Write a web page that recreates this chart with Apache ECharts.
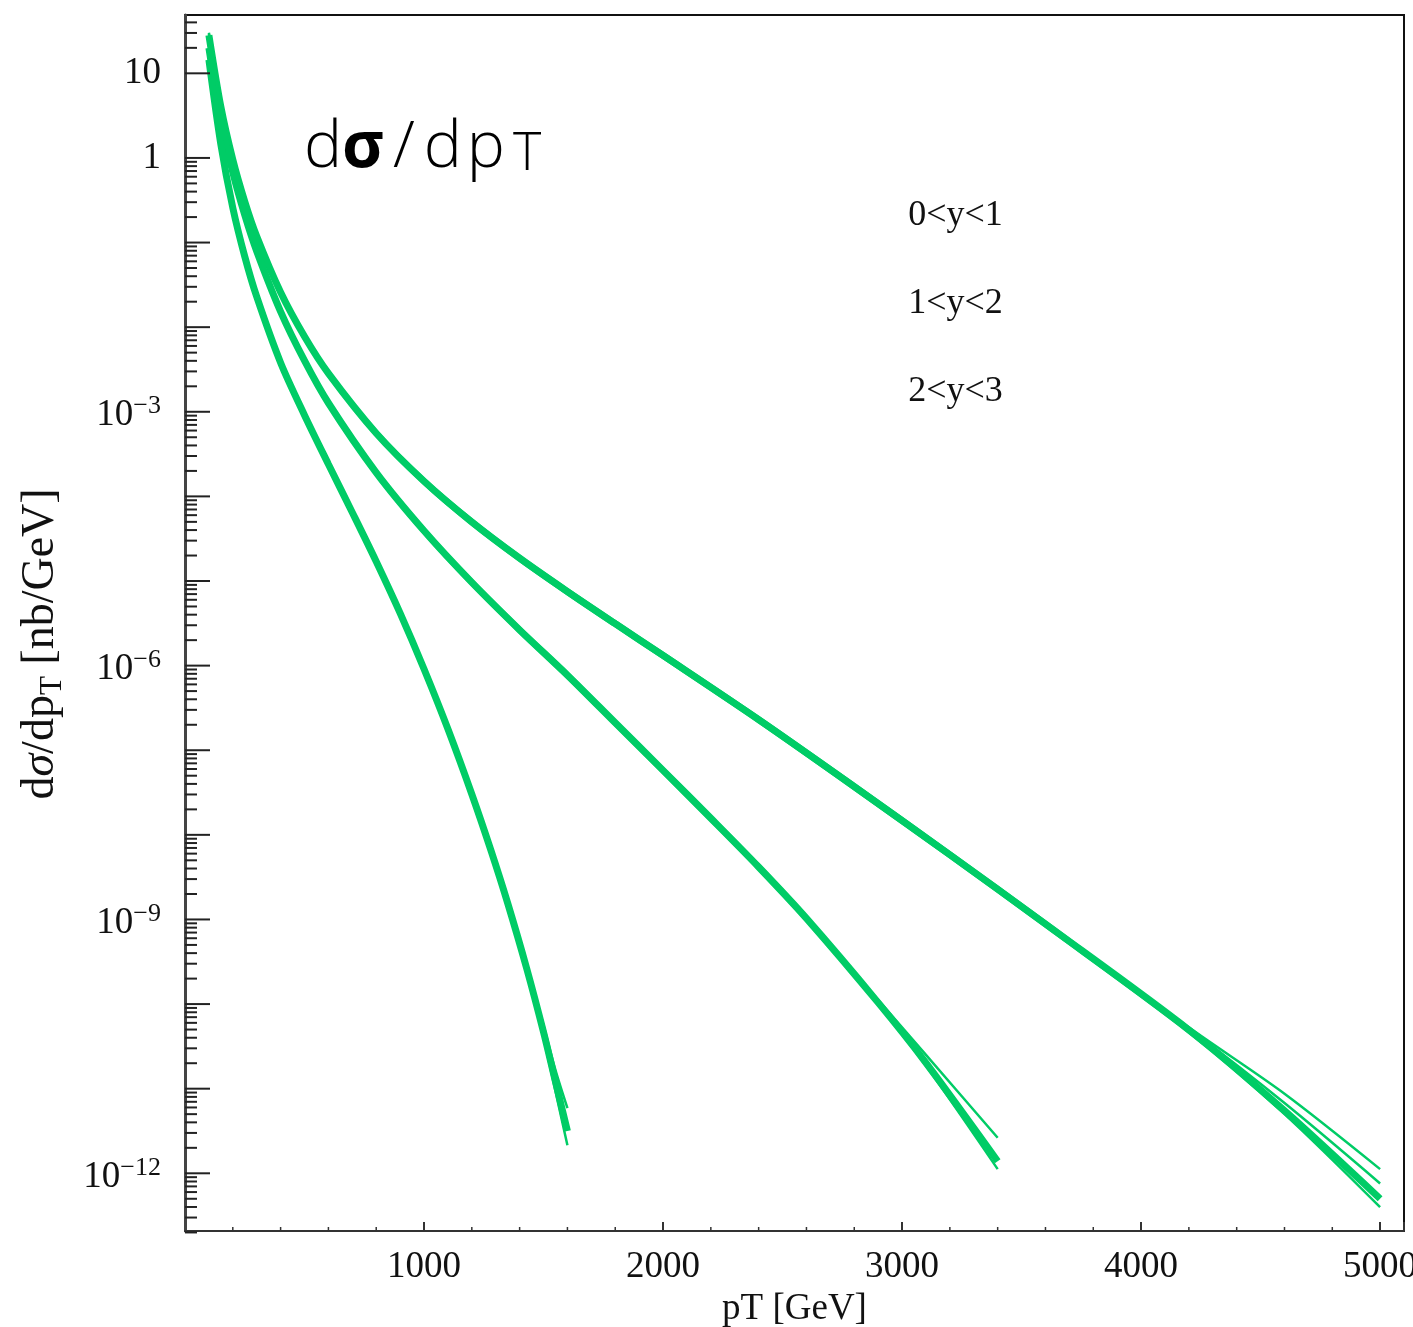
<!DOCTYPE html>
<html>
<head>
<meta charset="utf-8">
<script src="https://cdn.jsdelivr.net/npm/echarts@6/dist/echarts.min.js"></script>
<style>
  html, body { margin: 0; padding: 0; background: #fff; overflow: hidden; }
  #chart { width: 1413px; height: 1327px; }
</style>
</head>
<body>
<div id="chart"></div>
<script>
// Jet transverse-momentum grids (GeV), one per rapidity bin
const ptBin1 = [100, 150, 200, 250, 300, 400, 500, 600, 800, 1000, 1200, 1400, 1600, 1800, 2000, 2400, 2800, 3200, 3600, 4200, 4600, 5000];
const ptBin2 = [100, 150, 200, 250, 300, 400, 500, 600, 800, 1000, 1200, 1400, 1600, 1800, 2000, 2200, 2400, 2600, 2900, 3100, 3400];
const ptBin3 = [100, 150, 200, 250, 300, 400, 500, 600, 700, 800, 900, 1000, 1100, 1200, 1280, 1350, 1430, 1500, 1550, 1600];

// dsigma/dpT [nb/GeV] for 0<y<1 : central curve and scale variations
const bin1Central = [28.2, 4.03, 0.955, 0.306, 0.1186, 2.58e-2, 7.74e-3, 2.84e-3, 5.58e-4, 1.51e-4, 4.98e-5, 1.86e-5, 7.50e-6, 3.13e-6, 1.32e-6, 2.30e-7, 3.72e-8, 5.82e-9, 8.83e-10, 4.95e-11, 5.50e-12, 5.01e-13];
const bin1Up      = [30.2, 4.32, 1.024, 0.328, 0.127, 2.77e-2, 8.30e-3, 3.04e-3, 5.98e-4, 1.62e-4, 5.34e-5, 1.99e-5, 8.04e-6, 3.36e-6, 1.415e-6, 2.47e-7, 3.99e-8, 6.24e-9, 9.47e-10, 5.31e-11, 8.71e-12, 1.12e-12];
const bin1Mid     = [29.2, 4.17, 0.988, 0.317, 0.1228, 2.67e-2, 8.01e-3, 2.94e-3, 5.78e-4, 1.56e-4, 5.15e-5, 1.93e-5, 7.76e-6, 3.24e-6, 1.366e-6, 2.38e-7, 3.85e-8, 6.02e-9, 9.14e-10, 5.13e-11, 6.76e-12, 7.59e-13];
const bin1Down    = [26.3, 3.76, 0.891, 0.285, 0.1107, 2.41e-2, 7.22e-3, 2.65e-3, 5.21e-4, 1.41e-4, 4.65e-5, 1.74e-5, 7.0e-6, 2.92e-6, 1.23e-6, 2.15e-7, 3.47e-8, 5.43e-9, 8.24e-10, 4.62e-11, 5.01e-12, 3.98e-13];

// 1<y<2
const bin2Central = [20.0, 2.85, 0.676, 0.212, 7.91e-2, 1.53e-2, 4.02e-3, 1.27e-3, 1.91e-4, 3.92e-5, 9.62e-6, 2.64e-6, 7.71e-7, 2.11e-7, 5.78e-8, 1.57e-8, 4.17e-9, 1.03e-9, 1.04e-10, 2.02e-11, 1.39e-12];
const bin2Up      = [21.4, 3.06, 0.725, 0.227, 8.48e-2, 1.64e-2, 4.31e-3, 1.36e-3, 2.05e-4, 4.20e-5, 1.03e-5, 2.83e-6, 8.27e-7, 2.26e-7, 6.20e-8, 1.68e-8, 4.47e-9, 1.10e-9, 1.12e-10, 2.51e-11, 2.63e-12];
const bin2Down    = [18.7, 2.66, 0.631, 0.198, 7.38e-2, 1.43e-2, 3.75e-3, 1.18e-3, 1.78e-4, 3.66e-5, 8.98e-6, 2.46e-6, 7.19e-7, 1.97e-7, 5.39e-8, 1.46e-8, 3.89e-9, 9.61e-10, 9.77e-11, 1.86e-11, 1.12e-12];

// 2<y<3
const bin3Central = [14.45, 1.445, 0.257, 6.84e-2, 2.29e-2, 3.80e-3, 9.12e-4, 2.40e-4, 6.46e-5, 1.70e-5, 4.17e-6, 9.12e-7, 1.78e-7, 3.02e-8, 6.55e-9, 1.56e-9, 2.61e-10, 4.66e-11, 1.21e-11, 3.16e-12];
const bin3Up      = [15.5, 1.549, 0.2755, 7.33e-2, 2.455e-2, 4.07e-3, 9.78e-4, 2.57e-4, 6.93e-5, 1.82e-5, 4.47e-6, 9.78e-7, 1.91e-7, 3.24e-8, 7.02e-9, 1.67e-9, 2.80e-10, 5.62e-11, 1.66e-11, 5.9e-12];
const bin3Down    = [13.5, 1.348, 0.240, 6.38e-2, 2.14e-2, 3.55e-3, 8.51e-4, 2.24e-4, 6.03e-5, 1.59e-5, 3.89e-6, 8.51e-7, 1.66e-7, 2.82e-8, 6.11e-9, 1.46e-9, 2.44e-10, 3.98e-11, 9.33e-12, 2.14e-12];

const binNames = ['0<y<1', '1<y<2', '2<y<3'];

// Axis ranges and tick labels
const xRange = [0, 5100];
const yRange = [2.08e-13, 48.9];
const xLabelValues = [1000, 2000, 3000, 4000, 5000];
const yLabelValues = [10, 1, 1e-3, 1e-6, 1e-9, 1e-12];
const yLabelTexts = [['10', ''], ['1', ''], ['10', '\u22123'], ['10', '\u22126'], ['10', '\u22129'], ['10', '\u221212']];

const GREEN = '#00cc66';
const SERIF = "'Liberation Serif', 'Times New Roman', serif";
const SANS = "'Open Sans', 'Liberation Sans', sans-serif";

// Log-axis tick marks: long ticks at decades, short ticks at 2..9 of each decade
const yTicks = [];
for (let e = 1; e >= -12; e--) yTicks.push([0, Math.pow(10, e), 1]);
for (let e = 0; e >= -12; e--) {
  for (let k = 2; k <= 9; k++) yTicks.push([0, k * Math.pow(10, e - 1), 0]);
}
for (let k = 2; k <= 4; k++) yTicks.push([0, k * 10, 0]);

// Minor ticks on the pT axis every 200 GeV
const xMinorTicks = [];
for (let v = 200; v < xRange[1]; v += 200) if (v % 1000 !== 0) xMinorTicks.push([v, yRange[0]]);

function pairs(xs, ys) { return xs.map((x, i) => [x, ys[i]]); }

function curve(name, xs, ys, width) {
  return {
    name, type: 'line', data: pairs(xs, ys),
    symbol: 'none', showSymbol: false, smooth: 0.3,
    lineStyle: { color: GREEN, width },
    itemStyle: { color: GREEN },
    z: 3, silent: true
  };
}

const chart = echarts.init(document.getElementById('chart'), null, { renderer: 'canvas' });

chart.setOption({
  animation: false,
  backgroundColor: '#fff',
  title: {
    text: '{d1|d}{s|\u03c3}{sl|/}{d2|d}{p|p}{t|T}',
    left: 304, top: 116, padding: 0,
    textStyle: {
      rich: {
        d1: { fontFamily: SANS, fontWeight: 300, fontSize: 64, lineHeight: 66, color: '#000' },
        s:  { fontFamily: SANS, fontWeight: 'bold', fontSize: 64, lineHeight: 66, color: '#000', padding: [0, 6, 0, 0] },
        sl: { fontFamily: SANS, fontWeight: 300, fontSize: 64, lineHeight: 66, color: '#000', padding: [0, 9, 0, 3] },
        d2: { fontFamily: SANS, fontWeight: 300, fontSize: 64, lineHeight: 66, color: '#000', padding: [0, 5, 0, 0] },
        p:  { fontFamily: SANS, fontWeight: 300, fontSize: 64, lineHeight: 66, color: '#000', padding: [0, 8, 0, 0] },
        t:  { fontFamily: SANS, fontWeight: 300, fontSize: 54, lineHeight: 54, verticalAlign: 'bottom', color: '#000' }
      }
    }
  },
  legend: {
    data: binNames, orient: 'vertical', left: 890, top: 198, padding: 0,
    itemWidth: 0, itemHeight: 33, itemGap: 52, selectedMode: false,
    itemStyle: { opacity: 0 }, lineStyle: { opacity: 0 },
    textStyle: { fontFamily: SERIF, fontSize: 36, lineHeight: 35, color: '#111' }
  },
  grid: {
    left: 185, top: 15, right: 9, bottom: 96,
    show: true, borderColor: '#111', borderWidth: 2,
    containLabel: false, outerBoundsMode: 'none'
  },
  xAxis: {
    type: 'value', min: xRange[0], max: xRange[1], interval: 1000,
    name: 'pT [GeV]', nameLocation: 'middle', nameGap: 56,
    nameTextStyle: { fontFamily: SERIF, fontSize: 37, color: '#111' },
    axisLine: { show: true, lineStyle: { color: '#333', width: 2 } },
    axisTick: { show: true, inside: true, length: 9, lineStyle: { color: '#333', width: 2 } },
    axisLabel: {
      show: true, margin: 18, fontFamily: SERIF, fontSize: 37, color: '#111',
      showMinLabel: false, showMaxLabel: true, hideOverlap: false,
      formatter: v => (xLabelValues.indexOf(v) >= 0 ? String(v) : '')
    },
    splitLine: { show: false }
  },
  yAxis: {
    type: 'log', logBase: 10, min: yRange[0], max: yRange[1],
    name: '{a|d}{i|\u03c3}{a|/dp}{s|T}{a| [nb/GeV]}',
    nameLocation: 'middle', nameRotate: 90, nameGap: 117,
    nameTextStyle: {
      padding: [0, 42, 0, 0],
      rich: {
        a: { fontFamily: SERIF, fontSize: 46, lineHeight: 46, padding: [0, 0, 9, 0], color: '#111' },
        i: { fontFamily: SERIF, fontStyle: 'italic', fontSize: 46, lineHeight: 46, padding: [0, 0, 9, 0], color: '#111' },
        s: { fontFamily: SERIF, fontSize: 31, lineHeight: 31, verticalAlign: 'bottom', color: '#111' }
      }
    },
    axisLine: { show: true, lineStyle: { color: '#444', width: 3 } },
    axisTick: { show: false },
    axisLabel: { show: false },
    splitLine: { show: false }
  },
  series: [
    curve(binNames[0], ptBin1, bin1Up, 2.5),
    curve(binNames[0], ptBin1, bin1Mid, 2.5),
    curve(binNames[0], ptBin1, bin1Down, 2.5),
    curve(binNames[0], ptBin1, bin1Central, 7),
    curve(binNames[1], ptBin2, bin2Up, 2.5),
    curve(binNames[1], ptBin2, bin2Down, 2.5),
    curve(binNames[1], ptBin2, bin2Central, 7),
    curve(binNames[2], ptBin3, bin3Up, 2.5),
    curve(binNames[2], ptBin3, bin3Down, 2.5),
    curve(binNames[2], ptBin3, bin3Central, 7),
    {
      // tick marks along the logarithmic y axis, drawn inside the frame
      type: 'custom', name: 'yTicks', silent: true, clip: false, z: 5,
      data: yTicks, encode: { x: 0, y: 1 },
      renderItem: (params, api) => {
        const p = api.coord([0, api.value(1)]);
        const len = api.value(2) === 1 ? 25 : 12;
        return { type: 'line', shape: { x1: p[0], y1: p[1], x2: p[0] + len, y2: p[1] },
                 style: { stroke: '#222', lineWidth: 2 } };
      }
    },
    {
      // decade labels with superscript exponents
      type: 'custom', name: 'yLabels', silent: true, clip: false, z: 5,
      data: yLabelValues.map(v => [0, v]), encode: { x: 0, y: 1 },
      renderItem: (params, api) => {
        const p = api.coord([0, api.value(1)]);
        const parts = yLabelTexts[params.dataIndex];
        const text = parts[1] ? '{b|' + parts[0] + '}{e|' + parts[1] + '}' : '{n|' + parts[0] + '}';
        return {
          type: 'text', x: p[0] - 24, y: p[1],
          style: {
            text, align: 'right', verticalAlign: 'middle',
            rich: {
              n: { fontFamily: SERIF, fontSize: 37, lineHeight: 37, fill: '#111', color: '#111' },
              b: { fontFamily: SERIF, fontSize: 37, lineHeight: 37, padding: [8, 0, 0, 0], fill: '#111', color: '#111' },
              e: { fontFamily: SERIF, fontSize: 26, lineHeight: 26, verticalAlign: 'top', fill: '#111', color: '#111' }
            }
          }
        };
      }
    },
    {
      // minor ticks on the pT axis
      type: 'custom', name: 'xMinorTicks', silent: true, clip: false, z: 5,
      data: xMinorTicks, encode: { x: 0, y: 1 },
      renderItem: (params, api) => {
        const p = api.coord([api.value(0), yRange[0]]);
        return { type: 'line', shape: { x1: p[0], y1: p[1], x2: p[0], y2: p[1] - 4 },
                 style: { stroke: '#333', lineWidth: 1.5 } };
      }
    }
  ]
});
</script>
</body>
</html>
